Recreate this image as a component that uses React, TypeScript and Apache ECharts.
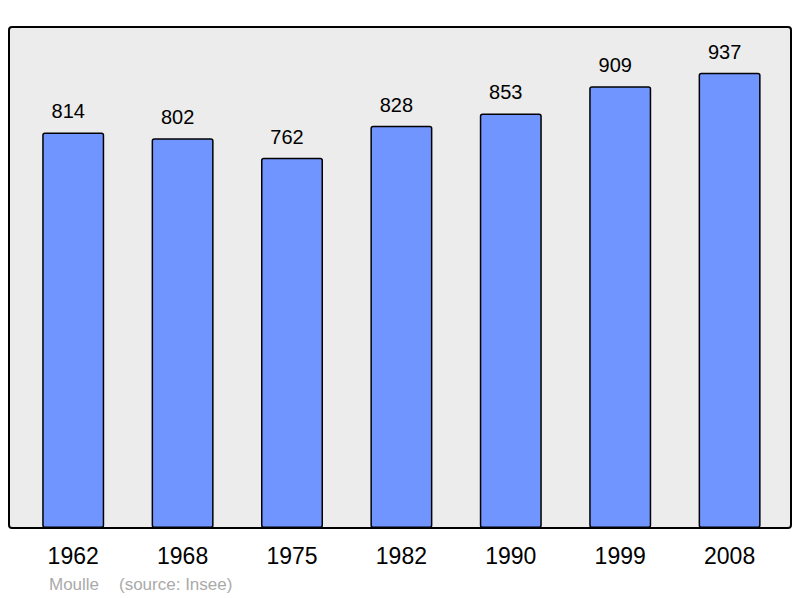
import React, { useEffect, useRef } from 'react'
import * as echarts from 'echarts'

const years = ['1962', '1968', '1975', '1982', '1990', '1999', '2008']
const population = [814, 802, 762, 828, 853, 909, 937]
const townName = 'Moulle'
const sourceNote = '(source: Insee)'

const FONT = '"Liberation Sans", Arial, sans-serif'

const App: React.FC = () => {
  const chartRef = useRef<HTMLDivElement>(null)

  useEffect(() => {
    document.body.style.margin = '0'
    if (!chartRef.current) return
    const chart = echarts.init(chartRef.current, undefined, { renderer: 'svg' })

    const option: echarts.EChartsOption = {
      animation: false,
      textStyle: { fontFamily: FONT },
      graphic: [
        {
          type: 'rect',
          z: -10,
          silent: true,
          shape: { x: 9, y: 27, width: 782, height: 501, r: 3 },
          style: { fill: '#ececec', stroke: '#000', lineWidth: 2 }
        },
        {
          type: 'text',
          left: 49,
          top: 576,
          style: { text: townName, fill: '#aaaaaa', font: `17px ${FONT}` }
        },
        {
          type: 'text',
          left: 119,
          top: 576,
          style: { text: sourceNote, fill: '#aaaaaa', font: `17px ${FONT}` }
        }
      ],
      grid: { left: 18.5, top: 27, width: 765.8, height: 501 },
      xAxis: {
        type: 'category',
        data: years,
        axisLine: { show: false },
        axisTick: { show: false },
        axisLabel: { fontSize: 23, color: '#000', margin: 16, fontFamily: FONT }
      },
      yAxis: {
        type: 'value',
        min: 0,
        max: 1031,
        show: false,
        splitLine: { show: false }
      },
      series: [
        {
          type: 'bar',
          data: population,
          barWidth: 62,
          itemStyle: {
            color: '#7095ff',
            borderColor: '#000',
            borderWidth: 1.5,
            borderRadius: 2
          },
          label: {
            show: true,
            position: 'top',
            distance: 11,
            offset: [-5, 0],
            fontSize: 20,
            color: '#000',
            fontFamily: FONT
          }
        }
      ]
    }

    chart.setOption(option)
    return () => {
      chart.dispose()
    }
  }, [])

  return <div ref={chartRef} style={{ width: 800, height: 598 }} />
}

export default App
